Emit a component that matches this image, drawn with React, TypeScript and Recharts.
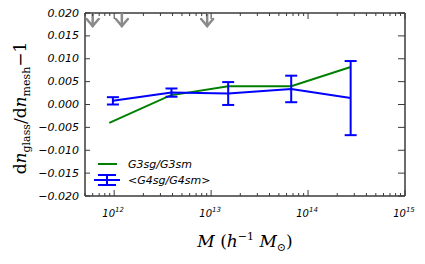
import React from 'react';
import {
  ComposedChart,
  Line,
  Scatter,
  XAxis,
  YAxis,
  ErrorBar,
  Legend,
  Label,
} from 'recharts';

// halo mass bins (h^-1 Msun) and relative difference of mass function
const greenMass = [8.9e11, 3.8e12, 1.5e13, 6.7e13, 2.75e14];
const greenValues = [-0.004, 0.002, 0.004, 0.004, 0.0082];

const blueMass = [9.7e11, 3.9e12, 1.5e13, 6.7e13, 2.75e14];
const blueValues = [0.0008, 0.0026, 0.0024, 0.0034, 0.0014];
const blueErrors = [0.0008, 0.0009, 0.0025, 0.0029, 0.0081];

const arrowMass = [6e11, 1.2e12, 9.1e12];

const seriesNames = ['G3sg/G3sm', '<G4sg/G4sm>'];

const yTicks = [-0.02, -0.015, -0.01, -0.005, 0, 0.005, 0.01, 0.015, 0.02];
const decades = [11, 12, 13, 14, 15];

const X_MIN = 5e11;
const X_MAX = 1e15;

const xTicks: number[] = [];
decades.forEach((d) => {
  for (let k = 1; k <= 9; k++) {
    const v = k * Math.pow(10, d);
    if (v >= X_MIN && v <= X_MAX) xTicks.push(v);
  }
});

const greenData = greenMass.map((m, i) => ({ m, v: greenValues[i] }));
const blueData = blueMass.map((m, i) => ({ m, v: blueValues[i], err: blueErrors[i] }));
const arrowData = arrowMass.map((m) => ({ m, v: 0.02 }));

const AXIS = '#3a3a3a';
const GREEN = '#008000';
const BLUE = '#0000ff';
const GREY = '#8a8a8a';
const tickFont = { fontFamily: 'DejaVu Sans', fontStyle: 'italic' as const };

const isDecade = (v: number) => {
  const l = Math.log10(v);
  return Math.abs(l - Math.round(l)) < 1e-6;
};

const fmtY = (v: number) => {
  const s = Math.abs(v).toFixed(3);
  return v < -1e-9 ? '\u2212' + s : s;
};

const BottomTick = ({ x, y, payload }: any) => {
  const v = payload.value;
  const major = isDecade(v);
  return (
    <g>
      <line x1={x} x2={x} y1={y} y2={y - (major ? 6 : 3)} stroke={AXIS} strokeWidth={1} />
      {major && (
        <text x={x - 1} y={y + 21} textAnchor="middle" fontSize={10} fill="#000" {...tickFont}>
          10
          <tspan dy={-5} fontSize={7}>
            {Math.round(Math.log10(v))}
          </tspan>
        </text>
      )}
    </g>
  );
};

const TopTick = ({ x, y, payload }: any) => {
  const major = isDecade(payload.value);
  return <line x1={x} x2={x} y1={y} y2={y + (major ? 6 : 3)} stroke={AXIS} strokeWidth={1} />;
};

const LeftTick = ({ x, y, payload }: any) => (
  <g>
    <line x1={x} x2={x + 5} y1={y} y2={y} stroke={AXIS} strokeWidth={1} />
    <text x={x - 6} y={y} textAnchor="end" dominantBaseline="central" fontSize={11} fill="#000" {...tickFont}>
      {fmtY(payload.value)}
    </text>
  </g>
);

const RightTick = ({ x, y }: any) => (
  <line x1={x} x2={x - 7} y1={y} y2={y} stroke={AXIS} strokeWidth={1} />
);

const ArrowShape = ({ cx, cy }: any) => (
  <g stroke={GREY} strokeWidth={2.5} fill="none" strokeLinecap="round">
    <line x1={cx} x2={cx} y1={cy} y2={cy + 13} />
    <polyline points={`${cx - 6},${cy + 6} ${cx},${cy + 13} ${cx + 6},${cy + 6}`} />
  </g>
);

const LegendContent = () => (
  <svg width={150} height={36} style={{ overflow: 'visible' }}>
    <line x1={8} x2={27} y1={9} y2={9} stroke={GREEN} strokeWidth={2} />
    <text x={38} y={9} dominantBaseline="central" fontSize={11} {...tickFont}>
      {seriesNames[0]}
    </text>
    <g stroke={BLUE} strokeWidth={2}>
      <line x1={4} x2={30} y1={25} y2={25} />
      <line x1={17} x2={17} y1={20} y2={30} />
      <line x1={8} x2={26} y1={20} y2={20} />
      <line x1={8} x2={26} y1={30} y2={30} />
    </g>
    <text x={38} y={25} dominantBaseline="central" fontSize={11} {...tickFont}>
      {seriesNames[1]}
    </text>
  </svg>
);

const XLabel = ({ viewBox }: any) => {
  const cx = viewBox.x + viewBox.width / 2 + 0;
  return (
    <text x={cx} y={247} textAnchor="middle" fontSize={17} fontFamily="DejaVu Serif" fill="#000">
      <tspan fontStyle="italic">M</tspan>
      <tspan> (</tspan>
      <tspan fontStyle="italic">h</tspan>
      <tspan dy={-7} fontSize={11}>{'\u22121'}</tspan>
      <tspan dy={7}> </tspan>
      <tspan fontStyle="italic">M</tspan>
      <tspan dy={4} fontSize={11}>{'\u2299'}</tspan>
      <tspan dy={-4}>)</tspan>
    </text>
  );
};

const YLabel = () => (
  <text
    x={0}
    y={0}
    transform="translate(26,108) rotate(-90)"
    textAnchor="middle"
    fontSize={17}
    fontFamily="DejaVu Serif"
    fill="#000"
  >
    <tspan>d</tspan>
    <tspan fontStyle="italic">n</tspan>
    <tspan dy={4} fontSize={11}>glass</tspan>
    <tspan dy={-4}>/d</tspan>
    <tspan fontStyle="italic">n</tspan>
    <tspan dy={4} fontSize={11}>mesh</tspan>
    <tspan dy={-4}>{'\u22121'}</tspan>
  </text>
);

export default function App() {
  return (
    <div style={{ position: 'absolute', left: 0, top: 0 }}>
      <ComposedChart width={425} height={264} margin={{ top: 12, right: 19, bottom: 0, left: 0 }}>
        <XAxis
          xAxisId="bottom"
          dataKey="m"
          type="number"
          scale="log"
          domain={[X_MIN, X_MAX]}
          allowDataOverflow
          ticks={xTicks}
          interval={0}
          height={68}
          tickSize={0}
          tickMargin={0}
          tick={<BottomTick />}
          axisLine={{ stroke: AXIS, strokeWidth: 1.5 }}
        >
          <Label content={<XLabel />} />
        </XAxis>
        <XAxis
          xAxisId="top"
          orientation="top"
          dataKey="m"
          type="number"
          scale="log"
          domain={[X_MIN, X_MAX]}
          allowDataOverflow
          ticks={xTicks}
          interval={0}
          height={1}
          tickSize={0}
          tickMargin={0}
          tick={<TopTick />}
          axisLine={{ stroke: AXIS, strokeWidth: 1.5 }}
        />
        <YAxis
          yAxisId="left"
          dataKey="v"
          type="number"
          domain={[-0.02, 0.02]}
          allowDataOverflow
          ticks={yTicks}
          interval={0}
          width={85}
          tickSize={0}
          tickMargin={0}
          tick={<LeftTick />}
          axisLine={{ stroke: AXIS, strokeWidth: 1.5 }}
        />
        <YAxis
          yAxisId="right"
          orientation="right"
          dataKey="v"
          type="number"
          domain={[-0.02, 0.02]}
          allowDataOverflow
          ticks={yTicks}
          interval={0}
          width={1}
          tickSize={0}
          tickMargin={0}
          tick={<RightTick />}
          axisLine={{ stroke: AXIS, strokeWidth: 1.5 }}
        />
        <Line
          xAxisId="bottom"
          yAxisId="left"
          data={greenData}
          dataKey="v"
          name={seriesNames[0]}
          stroke={GREEN}
          strokeWidth={2}
          dot={false}
          isAnimationActive={false}
        />
        <Line
          xAxisId="bottom"
          yAxisId="left"
          data={blueData}
          dataKey="v"
          name={seriesNames[1]}
          stroke={BLUE}
          strokeWidth={2}
          dot={false}
          isAnimationActive={false}
        >
          <ErrorBar dataKey="err" direction="y" width={6} stroke={BLUE} strokeWidth={2} />
        </Line>
        <Scatter
          xAxisId="bottom"
          yAxisId="left"
          data={arrowData}
          dataKey="v"
          shape={<ArrowShape />}
          isAnimationActive={false}
        />
        {/* invisible series so the top and right frame axes are drawn */}
        <Line
          xAxisId="top"
          yAxisId="right"
          data={arrowData}
          dataKey="v"
          stroke="none"
          dot={false}
          legendType="none"
          isAnimationActive={false}
        />
        <Legend
          layout="vertical"
          align="center"
          verticalAlign="middle"
          content={<LegendContent />}
          wrapperStyle={{ left: 90, top: 155, width: 150, height: 36 }}
        />
        <YLabel />
      </ComposedChart>
    </div>
  );
}
